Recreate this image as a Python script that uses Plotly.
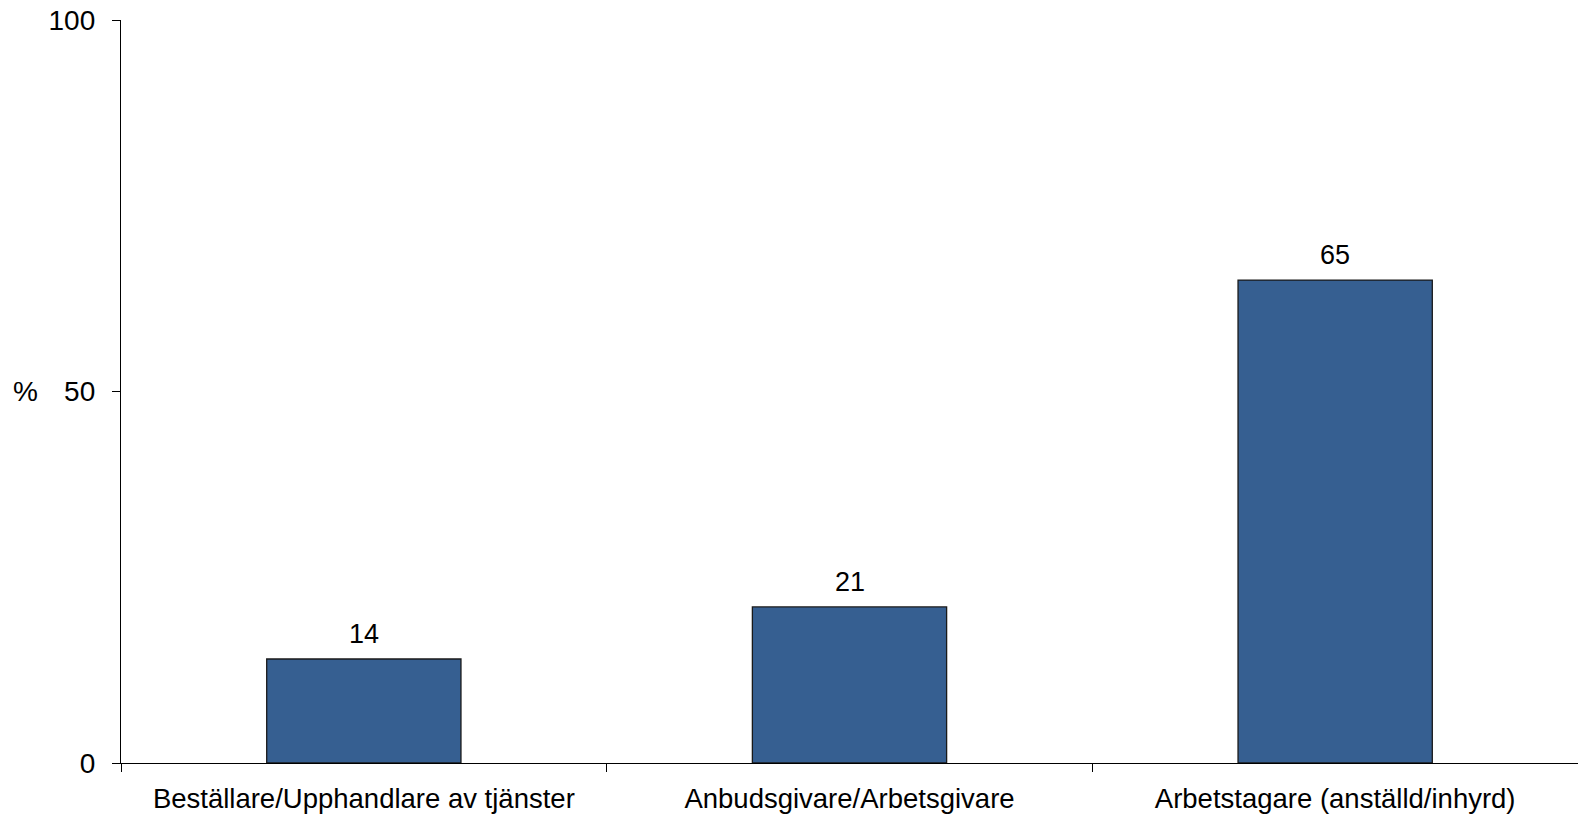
import plotly.graph_objects as go

categories = ["Beställare/Upphandlare av tjänster", "Anbudsgivare/Arbetsgivare", "Arbetstagare (anställd/inhyrd)"]
values = [14, 21, 65]
y_ticks = [0, 50, 100]
y_title = "%"

FONT = "Liberation Sans, Arial, sans-serif"

fig = go.Figure(go.Bar(
    x=categories,
    y=values,
    width=0.4,
    marker=dict(color="#365F91", line=dict(color="#1a1a1a", width=1.3)),
    hoverinfo="x+y",
))

annotations = [dict(
    text=y_title, xref="paper", yref="y", x=0, y=50,
    xanchor="center", yanchor="middle", xshift=-96, showarrow=False,
    font=dict(family=FONT, size=28, color="black"),
)]
for c, v in zip(categories, values):
    annotations.append(dict(
        text=str(v), x=c, y=v, xref="x", yref="y",
        xanchor="center", yanchor="bottom", yshift=8, showarrow=False,
        font=dict(family=FONT, size=27, color="black"),
    ))

fig.update_layout(
    width=1578, height=817,
    margin=dict(l=121, r=0, t=20, b=54),
    paper_bgcolor="white", plot_bgcolor="white",
    showlegend=False,
    font=dict(family=FONT, color="black"),
    xaxis=dict(
        showline=True, linecolor="black", linewidth=1.3,
        ticks="outside", ticklen=8, tickcolor="black", tickwidth=1.3,
        tickson="boundaries", showgrid=False,
        tickfont=dict(family=FONT, size=27.5, color="black"),
        ticklabelstandoff=11,
        range=[-0.5, 2.5],
    ),
    yaxis=dict(
        range=[0, 100], tickvals=y_ticks,
        showline=True, linecolor="black", linewidth=1.3,
        ticks="outside", ticklen=8, tickcolor="black", tickwidth=1.3,
        showgrid=False, zeroline=False,
        tickfont=dict(family=FONT, size=28, color="black"),
        ticklabelstandoff=11,
    ),
    annotations=annotations,
)

fig.write_html(
    "out.html",
    config={"displayModeBar": False},
    post_script="document.body.style.margin='0';document.body.style.overflow='hidden';",
)
